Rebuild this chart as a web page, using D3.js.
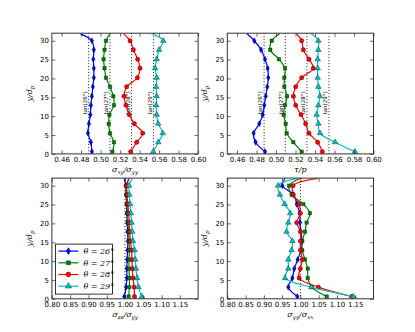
<!DOCTYPE html>
<html>
<head>
<meta charset="utf-8">
<script src="https://cdn.jsdelivr.net/npm/d3@7"></script>
<style>
body { margin: 0; background: #fff; }
text { font-family: "DejaVu Sans", sans-serif; }
.math { font-family: "DejaVu Serif", serif; font-style: italic; }
</style>
</head>
<body>
<svg width="415" height="332"></svg>
<script>
// heights y/d_p where the profiles were sampled; the last one is where the line leaves the top (no marker)
var yd = [0.6, 3.1, 5.5, 8.0, 10.4, 12.9, 15.3, 17.8, 20.2, 22.7, 25.1, 27.6, 30.0, 31.9];

// top left: sigma_xy / sigma_yy
var tl26 = [0.491, 0.490, 0.487, 0.488, 0.4895, 0.490, 0.491, 0.492, 0.493, 0.493, 0.4925, 0.493, 0.491, 0.479];
var tl27 = [0.512, 0.5137, 0.5096, 0.5083, 0.509, 0.5137, 0.513, 0.5096, 0.5055, 0.504, 0.503, 0.504, 0.5055, 0.5096];
var tl28 = [0.5308, 0.537, 0.5432, 0.5346, 0.5294, 0.526, 0.524, 0.5267, 0.5377, 0.5404, 0.538, 0.5336, 0.5302, 0.5233];
var tl29 = [0.554, 0.5592, 0.5637, 0.559, 0.5575, 0.557, 0.5575, 0.557, 0.5575, 0.556, 0.5575, 0.560, 0.5643, 0.5524];

// top right: tau / p
var tr26 = [0.4887, 0.479, 0.477, 0.4828, 0.4863, 0.488, 0.4894, 0.491, 0.4921, 0.4914, 0.4887, 0.4846, 0.4777, 0.4699];
var tr27 = [0.5263, 0.5177, 0.5109, 0.5099, 0.5078, 0.5092, 0.5113, 0.5085, 0.5085, 0.5092, 0.503, 0.4941, 0.4956, 0.504];
var tr28 = [0.5475, 0.5427, 0.5338, 0.5304, 0.5256, 0.5202, 0.5178, 0.5202, 0.5263, 0.5382, 0.5338, 0.528, 0.5263, 0.521];
var tr29 = [0.581, 0.5605, 0.5451, 0.5434, 0.5417, 0.5434, 0.5451, 0.5434, 0.5427, 0.5427, 0.5427, 0.5434, 0.5434, 0.5359];

// bottom left: sigma_zz / sigma_yy
var bl26 = [0.998, 1.003, 1.005, 1.005, 1.006, 1.007, 1.008, 1.007, 1.006, 1.005, 1.004, 1.003, 1.002, 0.998];
var bl27 = [1.010, 1.012, 1.012, 1.011, 1.011, 1.012, 1.011, 1.010, 1.008, 1.007, 1.005, 1.004, 1.003, 1.012];
var bl28 = [1.026, 1.025, 1.022, 1.020, 1.019, 1.018, 1.015, 1.013, 1.012, 1.010, 1.008, 1.006, 1.005, 1.010];
var bl29 = [1.046, 1.037, 1.033, 1.030, 1.028, 1.026, 1.022, 1.020, 1.018, 1.016, 1.014, 1.012, 1.011, 1.020];

// bottom right: sigma_yy / sigma_xx
var br26 = [0.9915, 0.967, 0.978, 0.9833, 0.9926, 1.0016, 1.005, 1.001, 0.999, 0.998, 0.990, 0.9815, 0.9505, 0.958];
var br27 = [1.072, 1.031, 1.020, 1.020, 1.0126, 1.005, 1.005, 1.0126, 1.017, 1.026, 1.008, 0.976, 0.969, 0.999];
var br28 = [1.140, 1.049, 0.9965, 0.9997, 1.005, 1.000, 1.000, 1.000, 0.990, 1.000, 0.996, 0.980, 0.980, 1.048];
var br29 = [1.145, 1.030, 0.958, 0.967, 0.967, 0.976, 0.978, 0.962, 0.967, 0.972, 0.957, 0.944, 0.939, 0.990];

var thetas = [26, 27, 28, 29];
var colors = ["#0000ff", "#008000", "#ff0000", "#00bfbf"];
var symbols = [d3.symbolDiamond, d3.symbolSquare, d3.symbolCircle, d3.symbolTriangle];
var symSizes = [11, 12, 15, 14];

var topTicks = [0.46, 0.48, 0.50, 0.52, 0.54, 0.56, 0.58, 0.60];
var botTicks = [0.80, 0.85, 0.90, 0.95, 1.00, 1.05, 1.10, 1.15];
var yTicks = [0, 5, 10, 15, 20, 25, 30];

var svg = d3.select("svg");
var W = 146.2, H = 120.7;

function panel(x0, y0, xdom, xticks, series, refs, refLabels, xlab) {
	var g = svg.append("g").attr("transform", "translate(" + x0 + "," + y0 + ")");
	var x = d3.scaleLinear().domain(xdom).range([0, W]);
	var y = d3.scaleLinear().domain([0, 32]).range([H, 0]);

	g.append("defs").append("clipPath").attr("id", "c" + x0 + "_" + y0)
		.append("rect").attr("width", W).attr("height", H);

	// dotted reference lines
	refs.forEach(function(r, i) {
		g.append("line").attr("x1", x(r)).attr("x2", x(r)).attr("y1", 0).attr("y2", H)
			.attr("stroke", "#000").attr("stroke-width", 0.9).attr("stroke-dasharray", "1,2");
		if (refLabels) {
			g.append("text").attr("transform", "translate(" + (x(r) - 2) + "," + y(13.5) + ") rotate(-90)")
				.attr("text-anchor", "middle").attr("font-size", 5.5).text(refLabels[i]);
		}
	});

	var plot = g.append("g").attr("clip-path", "url(#c" + x0 + "_" + y0 + ")");
	var line = d3.line().x(function(d) { return x(d[0]); }).y(function(d) { return y(d[1]); })
		.curve(d3.curveCatmullRom);
	series.forEach(function(s, k) {
		var pts = s.map(function(v, i) { return [v, yd[i]]; });
		plot.append("path").attr("d", line(pts)).attr("fill", "none")
			.attr("stroke", colors[k]).attr("stroke-width", 1.2);
		plot.selectAll(".m" + k).data(pts.slice(0, pts.length - 1)).enter().append("path")
			.attr("transform", function(d) { return "translate(" + x(d[0]) + "," + y(d[1]) + ")"; })
			.attr("d", d3.symbol().type(symbols[k]).size(symSizes[k]))
			.attr("fill", colors[k]).attr("stroke", "#000").attr("stroke-width", 0.35);
	});

	// axes with inward ticks
	var fmt = d3.format(".2f");
	g.append("g").attr("transform", "translate(0," + H + ")")
		.call(d3.axisBottom(x).tickValues(xticks).tickSize(-3.5).tickPadding(3).tickFormat(fmt));
	g.append("g").call(d3.axisTop(x).tickValues(xticks).tickSize(-3.5).tickFormat(""));
	g.append("g").call(d3.axisLeft(y).tickValues(yTicks).tickSize(-3.5).tickPadding(3));
	g.append("g").attr("transform", "translate(" + W + ",0)")
		.call(d3.axisRight(y).tickValues(yTicks).tickSize(-3.5).tickFormat(""));
	g.selectAll(".domain").remove();
	g.selectAll(".tick line").attr("stroke", "#000").attr("stroke-width", 0.6);
	g.selectAll(".tick text").attr("font-size", 7).attr("font-family", "DejaVu Sans").attr("fill", "#000");

	g.append("rect").attr("width", W).attr("height", H).attr("fill", "none")
		.attr("stroke", "#333").attr("stroke-width", 1);

	// axis labels
	var xl = g.append("text").attr("class", "math").attr("x", W / 2).attr("y", H + 18)
		.attr("text-anchor", "middle").attr("font-size", 8);
	xlab.forEach(function(p) {
		xl.append("tspan").text(p[0]).attr("font-size", p[1] ? 5.5 : 8).attr("dy", p[1] ? 2 : (p[2] ? -2 : 0));
	});
	var yl = g.append("text").attr("class", "math")
		.attr("transform", "translate(-20," + (H / 2) + ") rotate(-90)")
		.attr("text-anchor", "middle").attr("font-size", 8);
	yl.append("tspan").text("y/d");
	yl.append("tspan").text("p").attr("font-size", 5.5).attr("dy", 2);
	return {g: g, x: x, y: y};
}

var tans = thetas.map(function(t) { return Math.tan(t * Math.PI / 180); });
var tanLabels = thetas.map(function(t) { return "tan(" + t + "°)"; });

panel(51.9, 33.2, [0.45, 0.60], topTicks, [tl26, tl27, tl28, tl29], tans, tanLabels,
	[["σ"], ["xy", 1], ["/σ", 0, 1], ["yy", 1]]);
panel(227.3, 33.2, [0.45, 0.60], topTicks, [tr26, tr27, tr28, tr29], tans, tanLabels,
	[["τ/p"]]);
var bl = panel(51.9, 178.1, [0.80, 1.20], botTicks, [bl26, bl27, bl28, bl29], [1.0], null,
	[["σ"], ["zz", 1], ["/σ", 0, 1], ["yy", 1]]);
panel(227.3, 178.1, [0.80, 1.20], botTicks, [br26, br27, br28, br29], [1.0], null,
	[["σ"], ["yy", 1], ["/σ", 0, 1], ["xx", 1]]);

// legend in the lower left panel
var lg = bl.g.append("g").attr("transform", "translate(3.5,66)");
lg.append("rect").attr("width", 57).attr("height", 50).attr("fill", "#fff")
	.attr("stroke", "#000").attr("stroke-width", 0.8);
thetas.forEach(function(t, k) {
	var yy = 7 + k * 11.7;
	lg.append("line").attr("x1", 3).attr("x2", 23).attr("y1", yy).attr("y2", yy)
		.attr("stroke", colors[k]).attr("stroke-width", 1.2);
	lg.append("path").attr("transform", "translate(13," + yy + ")")
		.attr("d", d3.symbol().type(symbols[k]).size(symSizes[k] + 4))
		.attr("fill", colors[k]).attr("stroke", "#000").attr("stroke-width", 0.35);
	lg.append("text").attr("class", "math").attr("x", 28).attr("y", yy + 3)
		.attr("font-size", 8).text("θ = " + t + "°");
});
</script>
</body>
</html>
